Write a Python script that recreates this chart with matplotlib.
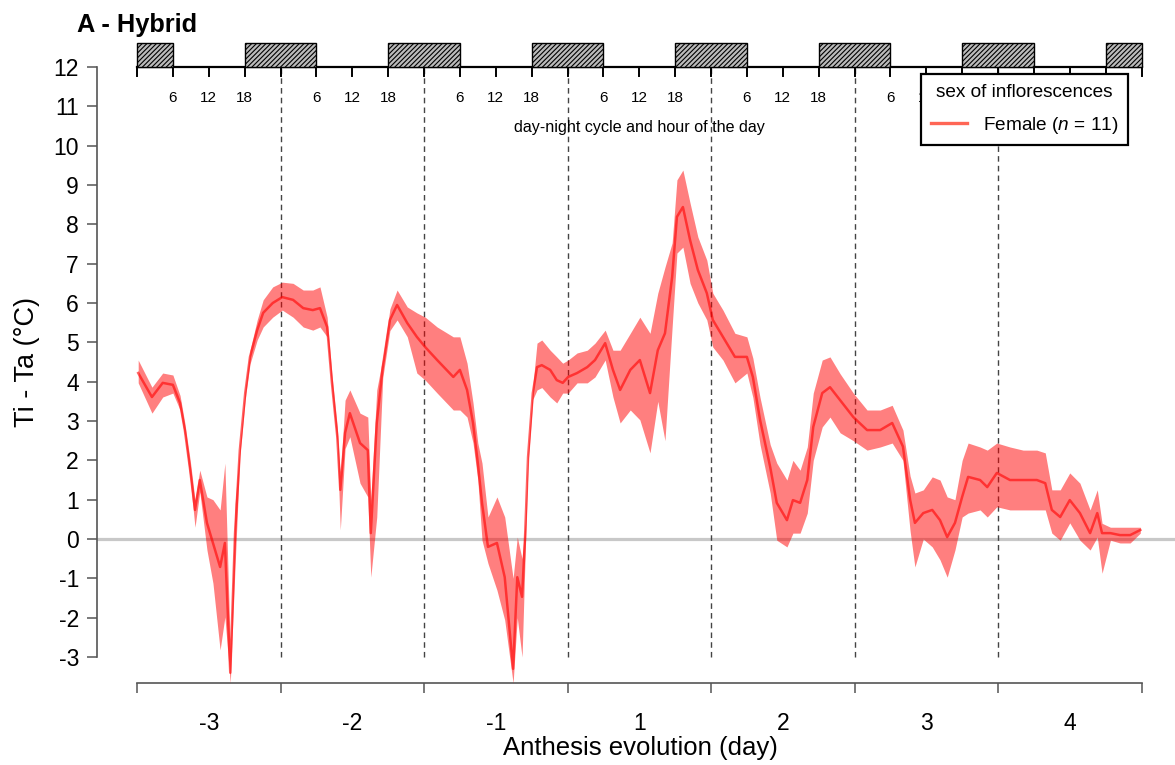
import matplotlib
matplotlib.use("Agg")
import matplotlib.pyplot as plt
from matplotlib.lines import Line2D
from matplotlib.patches import Rectangle

plt.rcParams['font.family'] = ['Liberation Sans', 'DejaVu Sans']
plt.rcParams['mathtext.fontset'] = 'custom'
plt.rcParams['mathtext.rm'] = 'Liberation Sans'
plt.rcParams['mathtext.it'] = 'Liberation Sans:italic'
plt.rcParams['axes.unicode_minus'] = False
plt.rcParams['hatch.color'] = '#333333'
plt.rcParams['hatch.linewidth'] = 0.8

# hours since start of recording (7 days = 168 h)
hours = [0.2, 2.5, 4.3, 6.0, 7.2, 8.0, 8.9, 9.7, 10.5, 11.7, 12.7, 13.9, 14.7, 15.6,
         16.4, 17.2, 18.1, 18.9, 20.1, 21.1, 22.7, 24.3, 26.1, 27.8, 29.4, 30.6,
         31.8, 32.6, 33.5, 34.0, 34.8, 35.6, 37.3, 38.6, 39.1, 40.1, 41.1, 42.3,
         43.5, 45.2, 46.8, 48.2, 50.2, 52.9, 54.0, 55.2, 56.2, 57.0, 57.7, 58.7,
         60.2, 61.5, 62.9, 63.6, 64.4, 64.9, 65.4, 66.2, 66.9, 67.7, 69.1, 70.2,
         71.2, 72.1, 73.6, 75.3, 76.6, 78.3, 79.6, 80.8, 82.5, 84.1, 85.8, 87.1,
         88.3, 89.5, 90.3, 91.3, 92.5, 93.8, 95.3, 96.3, 98.0, 100.0, 102.0, 103.0,
         104.2, 105.9, 107.0, 108.7, 109.7, 110.9, 112.1, 113.1, 114.6, 115.9,
         117.6, 119.8, 122.1, 124.3, 126.3, 128.1, 129.3, 130.1, 131.5, 133.0,
         134.3, 135.5, 136.8, 138.0, 139.0, 141.0, 142.2, 143.8, 146.0, 148.2,
         150.5, 151.9, 153.0, 154.4, 156.0, 157.7, 159.4, 160.6, 161.4, 162.8,
         164.4, 166.1, 167.8]

# mean Ti - Ta (degC), female inflorescences
mean_dt = [4.22, 3.61, 3.97, 3.92, 3.46, 2.77, 1.75, 0.74, 1.5, 0.41, -0.1, -0.71, -0.1, -3.4,
           0.15, 2.26, 3.71, 4.63, 5.31, 5.75, 6.0, 6.15, 6.08, 5.87, 5.82, 5.87,
           5.39, 3.97, 2.6, 1.25, 2.7, 3.2, 2.44, 2.26, 0.15, 2.95, 4.37, 5.57,
           5.95, 5.49, 5.14, 4.88, 4.55, 4.12, 4.3, 3.79, 2.95, 1.93, 0.92, -0.2,
           -0.1, -0.97, -3.3, -0.97, -1.47, 0.05, 2.08, 3.71, 4.37, 4.42, 4.3, 4.04,
           3.97, 4.12, 4.22, 4.37, 4.55, 4.98, 4.3, 3.79, 4.3, 4.55, 3.71, 4.8,
           5.23, 6.66, 8.19, 8.44, 7.6, 6.84, 6.25, 5.57, 5.14, 4.63, 4.63, 4.12,
           3.03, 1.83, 0.92, 0.48, 0.99, 0.92, 1.5, 2.85, 3.71, 3.86,
           3.53, 3.1, 2.77, 2.77, 2.95, 2.35, 1.0, 0.41, 0.66, 0.74,
           0.48, 0.05, 0.41, 1.07, 1.58, 1.5, 1.32, 1.68, 1.5, 1.5,
           1.5, 1.42, 0.74, 0.56, 0.99, 0.66, 0.15, 0.66, 0.15, 0.15,
           0.1, 0.1, 0.23]

# lower / upper edge of the shaded band
lower_dt = [3.97, 3.2, 3.61, 3.71, 3.28, 2.6, 1.5, 0.3, 1.2, -0.28, -1.12, -2.82, -1.98, -3.66,
            -0.7, 2.1, 3.55, 4.45, 5.06, 5.39, 5.64, 5.82, 5.64, 5.39, 5.31, 5.39,
            5.14, 3.75, 2.35, 0.23, 2.3, 2.6, 1.42, 1.07, -0.97, 0.56, 4.1, 5.3,
            5.57, 5.14, 4.22, 4.04, 3.71, 3.28, 3.28, 3.1, 2.44, 1.5, -0.03, -0.62,
            -1.3, -2.06, -3.66, -2.0, -3.0, -0.5, 1.9, 3.55, 3.79, 3.85, 3.61, 3.46,
            3.71, 3.71, 3.97, 3.97, 4.12, 4.55, 3.61, 2.95, 3.28, 3.03, 2.19, 3.5,
            2.5, 5.39, 7.27, 7.42, 6.5, 6.0, 5.57, 4.88, 4.55, 3.97, 4.22, 3.6,
            2.4, 1.17, -0.03, -0.2, 0.15, 0.15, 0.66, 2.0, 2.85, 3.1,
            2.7, 2.5, 2.26, 2.34, 2.44, 2.0, 0.2, -0.71, 0.0, -0.2,
            -0.53, -0.97, -0.28, 0.56, 0.66, 0.74, 0.56, 0.82, 0.74, 0.74,
            0.74, 0.74, 0.15, -0.03, 0.41, -0.03, -0.28, 0.05, -0.87, -0.03,
            -0.1, -0.1, 0.15]

upper_dt = [4.55, 3.86, 4.22, 4.17, 3.65, 2.95, 2.0, 1.0, 1.75, 1.07, 1.0, 0.74, 1.93, -2.8,
            0.9, 2.4, 3.85, 4.8, 5.57, 6.08, 6.41, 6.53, 6.5, 6.33, 6.33, 6.41,
            5.64, 4.2, 2.85, 1.6, 3.53, 3.79, 3.2, 3.1, 1.0, 3.79, 4.6, 5.85,
            6.33, 5.9, 5.75, 5.64, 5.39, 5.14, 5.14, 4.47, 3.46, 2.44, 1.93, 0.56,
            1.07, 0.56, -1.0, 0.05, -0.5, 0.4, 2.25, 3.9, 4.98, 5.06, 4.8, 4.63,
            4.47, 4.55, 4.73, 4.8, 4.98, 5.31, 4.8, 4.8, 5.23, 5.64, 5.23, 6.25,
            6.91, 7.53, 9.13, 9.38, 8.54, 7.68, 7.09, 6.25, 5.82, 5.23, 5.14, 4.6,
            3.6, 2.4, 1.93, 1.5, 2.0, 1.75, 2.34, 3.71, 4.55, 4.63,
            4.2, 3.71, 3.28, 3.28, 3.4, 2.77, 1.6, 1.17, 1.25, 1.58,
            1.5, 1.07, 1.0, 2.0, 2.44, 2.34, 2.26, 2.44, 2.34, 2.26,
            2.26, 2.19, 1.25, 1.25, 1.68, 1.42, 0.74, 1.25, 0.4, 0.3,
            0.3, 0.3, 0.3]

day_labels = ['-3', '-2', '-1', '1', '2', '3', '4']
hour_labels = ['6', '12', '18']
nights = [(0, 6), (18, 30), (42, 54), (66, 78), (90, 102), (114, 126), (138, 150), (162, 168)]


def draw_chart():
    fig = plt.figure(figsize=(11.75, 7.65), dpi=100)
    ax = fig.add_axes([97 / 1175, 82 / 765, 1078 / 1175, 640 / 765])
    ax.set_xlim(-6.69, 173.6)
    ax.set_ylim(-3.66, 12.61)

    # zero reference line
    ax.axhline(0, color='#c8c8c8', lw=2.3, zorder=1)

    # day boundaries
    for d in range(1, 7):
        ax.plot([24 * d, 24 * d], [-3, 12], color='#444444', lw=1.0,
                ls=(0, (4, 3)), zorder=2)

    ax.fill_between(hours, lower_dt, upper_dt, color='#ff0000', alpha=0.5,
                    lw=0, zorder=3)
    ax.plot(hours, mean_dt, color='#ff0000', alpha=0.6, lw=1.8, zorder=4)

    # axes
    for s in ['top', 'right']:
        ax.spines[s].set_visible(False)
    ax.spines['left'].set_bounds(-3, 12)
    ax.spines['bottom'].set_bounds(0, 168)
    for s in ['left', 'bottom']:
        ax.spines[s].set_color('#555555')
        ax.spines[s].set_linewidth(1.2)

    ax.set_yticks(range(-3, 13))
    ax.tick_params(axis='y', length=7, width=1.1, color='#555555', pad=6,
                   labelsize=16.5)
    ax.set_xticks(range(0, 169, 24))
    ax.set_xticklabels([])
    ax.tick_params(axis='x', which='major', length=7, width=1.1, color='#555555')
    ax.set_xticks(range(12, 168, 24), minor=True)
    ax.set_xticklabels(day_labels, minor=True)
    ax.tick_params(axis='x', which='minor', length=0, pad=21, labelsize=16.5)

    # day-night cycle axis on top
    ax.plot([0, 168], [12, 12], color='black', lw=1.6, clip_on=False, zorder=5)
    for h in range(0, 169, 6):
        ax.plot([h, h], [12, 11.77], color='black', lw=1.4, clip_on=False, zorder=5)
        lab = str(h % 24)
        if lab in hour_labels:
            ax.text(h, 11.2, lab, ha='center', va='center', fontsize=11, zorder=3)
    for start, end in nights:
        ax.add_patch(Rectangle((start, 12), end - start, 0.61, facecolor='#bbbbbb',
                               edgecolor='black', hatch='///////', lw=1.0,
                               clip_on=False, zorder=5))
    ax.text(84, 10.47, 'day-night cycle and hour of the day', ha='center',
            va='center', fontsize=11.6)

    handle = Line2D([], [], color='#ff6655', lw=2.4)
    leg = ax.legend([handle], [r'Female $\mathit{(n}$ = $\mathit{11)}$'],
                    title='sex of inflorescences', loc='upper right',
                    bbox_to_anchor=(1128 / 1175, 1 - 74 / 765),
                    bbox_transform=fig.transFigure, borderaxespad=0,
                    fontsize=13.7, title_fontsize=13.7, frameon=True,
                    fancybox=False, framealpha=1, edgecolor='black',
                    borderpad=0.5, labelspacing=0.75, handlelength=1.9,
                    handletextpad=0.85)
    leg.get_frame().set_linewidth(1.6)
    leg.set_zorder(10)

    fig.text(77 / 1175, 1 - 25 / 765, 'A - Hybrid', fontsize=18.3, fontweight='bold',
             ha='left', va='center')
    fig.text(27 / 1175, 1 - 362 / 765, 'Ti - Ta (°C)', fontsize=19.5, rotation=90,
             ha='center', va='center')
    fig.text(640 / 1175, 1 - 748 / 765, 'Anthesis evolution (day)', fontsize=18.5,
             ha='center', va='center')

    fig.savefig('out.png', dpi=100)


if __name__ == "__main__":
    draw_chart()
